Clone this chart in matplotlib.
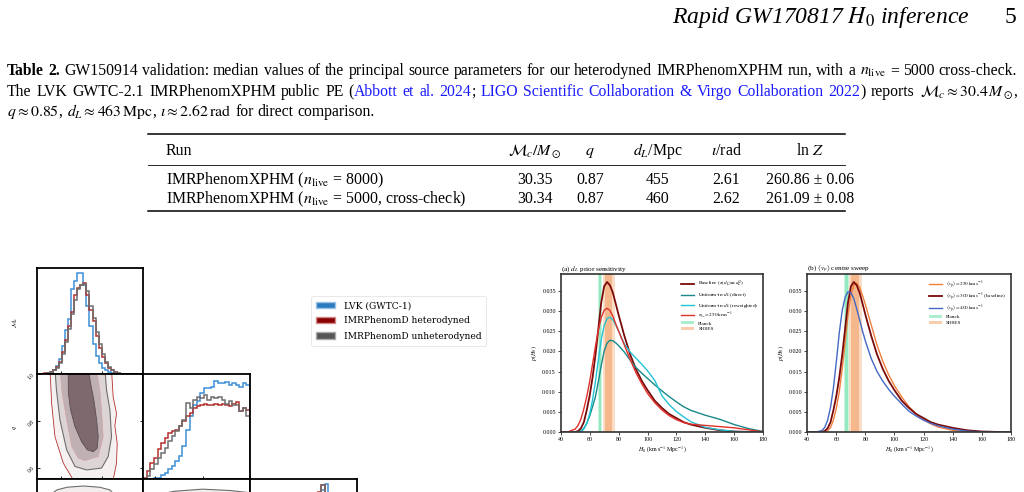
import numpy as np
import matplotlib
matplotlib.use("Agg")
import matplotlib.pyplot as plt
from matplotlib.lines import Line2D
from matplotlib.patches import Patch, Polygon

plt.rcParams['font.family'] = ['Liberation Serif', 'DejaVu Serif']
plt.rcParams['mathtext.fontset'] = 'stix'

W, H = 1024, 492

# ---------------- page text / table 2 ----------------
header_title = r"Rapid GW170817 $H_0$ inference"
header_page = "5"

blue_link = '#1a1aff'
caption_lines = [
    [("Table 2.", 'k', 'bold'),
     (" GW150914 validation: median values of the principal source parameters for our heterodyned IMRPhenomXPHM run, with a ", 'k', 'normal'),
     (r"$n_{\mathrm{live}}$", 'k', 'normal'),
     (" = 5000 cross-check.", 'k', 'normal')],
    [("The LVK GWTC-2.1 IMRPhenomXPHM public PE (", 'k', 'normal'),
     ("Abbott et al. 2024", blue_link, 'normal'),
     ("; ", 'k', 'normal'),
     ("LIGO Scientific Collaboration & Virgo Collaboration 2022", blue_link, 'normal'),
     (") reports ", 'k', 'normal'),
     (r"$\mathcal{M}_c \approx 30.4\,M_\odot$", 'k', 'normal'),
     (",", 'k', 'normal')],
    [(r"$q \approx 0.85$", 'k', 'normal'),
     (", ", 'k', 'normal'),
     (r"$d_L \approx 463\,\mathrm{Mpc}$", 'k', 'normal'),
     (", ", 'k', 'normal'),
     (r"$\iota \approx 2.62\,\mathrm{rad}$", 'k', 'normal'),
     (" for direct comparison.", 'k', 'normal')],
]

table_cols = ["Run", r"$\mathcal{M}_c/M_\odot$", r"$q$", r"$d_L$/Mpc", r"$\iota$/rad", r"ln $Z$"]
table_runs = [r"IMRPhenomXPHM ($n_{\mathrm{live}}$ = 8000)",
              r"IMRPhenomXPHM ($n_{\mathrm{live}}$ = 5000, cross-check)"]
table_mc = ["30.35", "30.34"]
table_q = ["0.87", "0.87"]
table_dl = ["455", "460"]
table_iota = ["2.61", "2.62"]
table_lnz = ["260.86 ± 0.06", "261.09 ± 0.08"]

# ---------------- corner plot data ----------------
corner_labels = ["LVK (GWTC-1)", "IMRPhenomD heterodyned", "IMRPhenomD unheterodyned"]
mc_edges = np.linspace(26.0, 34.1, 28)
mc_blue = [0, 0, 0, 0.01, 0.04, 0.08, 0.15, 0.28, 0.44, 0.55, 0.84, 0.92, 1.0, 1.0,
           0.88, 0.68, 0.48, 0.30, 0.18, 0.11, 0.06, 0.04, 0.02, 0.01, 0, 0, 0]
mc_het = [0, 0.005, 0.01, 0.02, 0.04, 0.07, 0.12, 0.22, 0.34, 0.48, 0.62, 0.78, 0.85, 0.88,
          0.90, 0.78, 0.64, 0.53, 0.38, 0.26, 0.17, 0.11, 0.06, 0.035, 0.015, 0.008, 0]
mc_unhet = [0, 0.003, 0.008, 0.015, 0.035, 0.06, 0.11, 0.20, 0.32, 0.45, 0.60, 0.74, 0.84, 0.88,
            0.89, 0.82, 0.68, 0.56, 0.42, 0.30, 0.20, 0.12, 0.07, 0.04, 0.02, 0.01, 0]

q_edges = np.linspace(0.55, 1.0, 31)
q_blue = [0, 0, 2, 3, 5, 12, 20, 30, 40, 55, 70, 100, 150, 190, 225, 235, 260, 275, 275, 280,
          298, 290, 290, 295, 285, 290, 285, 280, 290, 285]
q_het = [5, 25, 50, 65, 90, 110, 125, 140, 145, 150, 160, 175, 190, 200, 215, 220, 225, 228, 225, 225,
         228, 225, 228, 225, 220, 228, 232, 205, 215, 208]
q_unhet = [2, 10, 30, 45, 65, 80, 95, 115, 130, 145, 160, 180, 230, 215, 240, 250, 245, 255, 240, 250,
           245, 250, 240, 228, 235, 225, 225, 205, 215, 190]

dl_edges = np.linspace(100, 700, 31)
dl_blue = [0, 0, 0, 0, 0.01, 0.02, 0.03, 0.06, 0.10, 0.15, 0.21, 0.28, 0.36, 0.44, 0.52,
           0.60, 0.67, 0.73, 0.78, 0.82, 0.90, 0.955, 0.80, 0.66, 0.50, 0.34, 0.19, 0.09, 0.03, 0.01]
dl_het = [0, 0, 0, 0, 0.01, 0.02, 0.04, 0.07, 0.11, 0.16, 0.22, 0.30, 0.38, 0.47, 0.55,
          0.62, 0.70, 0.76, 0.81, 0.88, 0.945, 0.85, 0.78, 0.66, 0.50, 0.33, 0.18, 0.08, 0.03, 0.01]
dl_unhet = [0, 0, 0, 0, 0.01, 0.02, 0.04, 0.07, 0.11, 0.16, 0.22, 0.30, 0.38, 0.47, 0.55,
            0.62, 0.70, 0.76, 0.80, 0.84, 0.95, 0.86, 0.77, 0.65, 0.50, 0.33, 0.18, 0.08, 0.03, 0.01]

# credible-region outlines (Mc, q)
mcq_outer_mc = [26.91, 32.97, 33.13, 33.46, 33.30, 33.53, 33.46, 33.10, 29.30, 28.22, 27.40, 27.07]
mcq_outer_q = [1.02, 1.02, 0.903, 0.832, 0.778, 0.704, 0.619, 0.54, 0.54, 0.619, 0.732, 0.875]
mcq_2s_mc = [27.40, 32.32, 32.48, 32.81, 32.97, 32.64, 31.99, 30.51, 29.37, 28.55, 27.89, 27.55]
mcq_2s_q = [1.02, 1.02, 0.932, 0.846, 0.732, 0.647, 0.598, 0.590, 0.605, 0.676, 0.804, 0.93]
mcq_mid_mc = [27.89, 31.50, 31.82, 31.99, 32.15, 31.66, 30.35, 29.69, 29.04, 28.55, 28.10]
mcq_mid_q = [1.02, 1.02, 0.932, 0.846, 0.732, 0.647, 0.630, 0.640, 0.690, 0.804, 0.92]
mcq_inner_mc = [28.70, 30.70, 30.91, 31.23, 31.50, 31.66, 31.56, 31.17, 30.58, 30.02, 29.37, 28.94, 28.72]
mcq_inner_q = [1.02, 1.02, 0.96, 0.889, 0.804, 0.732, 0.683, 0.668, 0.676, 0.711, 0.775, 0.846, 0.917]

# credible-region outlines (Mc, dL) and (q, dL)
mcdl_outer_mc = [26.7, 27.0, 27.6, 28.6, 30.2, 31.8, 32.8, 33.3, 33.5, 33.6, 27.5]
mcdl_outer_dl = [560, 615, 640, 655, 662, 655, 640, 610, 560, 300, 200]
qdl_outer_q = [0.56, 0.62, 0.68, 0.80, 0.92, 0.99, 1.02, 1.02, 0.56]
qdl_outer_dl = [560, 615, 632, 644, 636, 625, 600, 200, 200]

# ---------------- H0 posterior data ----------------
h0_grid = [40, 45, 50, 52, 54, 56, 58, 60, 62, 64, 66, 68, 70, 72, 74, 76, 78, 80,
           84, 88, 92, 96, 100, 105, 110, 115, 120, 125, 130, 140, 150, 160, 170, 180]
p_baseline = [0, 0, 0.0001, 0.0003, 0.0010, 0.0025, 0.0055, 0.0090, 0.0135, 0.0190, 0.0255, 0.0320,
              0.0360, 0.0371, 0.0363, 0.0345, 0.0318, 0.0290, 0.0238, 0.0192, 0.0156, 0.0127, 0.0104,
              0.0078, 0.0060, 0.0045, 0.0035, 0.0025, 0.0019, 0.0011, 0.0005, 0.0002, 0.0001, 0]
p_direct = [0, 0, 0, 0.0001, 0.0003, 0.0010, 0.0022, 0.0040, 0.0063, 0.0088, 0.0125, 0.0165,
            0.0200, 0.0220, 0.0227, 0.0226, 0.0221, 0.0214, 0.0198, 0.0178, 0.0160, 0.0146, 0.0133,
            0.0117, 0.0102, 0.0088, 0.0075, 0.0063, 0.0054, 0.0042, 0.0032, 0.0019, 0.0009, 0.0002]
p_reweighted = [0, 0, 0, 0, 0.0001, 0.0008, 0.0022, 0.0045, 0.0080, 0.0125, 0.0179, 0.0228,
                0.0263, 0.0281, 0.0284, 0.0278, 0.0265, 0.0250, 0.0218, 0.0198, 0.0183, 0.0168, 0.0152,
                0.0128, 0.0090, 0.0068, 0.0051, 0.0038, 0.0026, 0.0012, 0.0006, 0.0002, 0.0001, 0]
p_sigma250 = [0, 0.0001, 0.0008, 0.0017, 0.0033, 0.0058, 0.0088, 0.0125, 0.0168, 0.0212, 0.0252, 0.0283,
              0.0301, 0.0306, 0.0301, 0.0287, 0.0268, 0.0250, 0.0215, 0.0180, 0.0147, 0.0120, 0.0096,
              0.0073, 0.0055, 0.0041, 0.0031, 0.0024, 0.0020, 0.0017, 0.0014, 0.0011, 0.0006, 0.0001]
p_vp250 = [0, 0, 0, 0.0001, 0.0004, 0.0012, 0.0030, 0.0060, 0.0100, 0.0155, 0.0220, 0.0288,
           0.0338, 0.0363, 0.0368, 0.0358, 0.0338, 0.0315, 0.0265, 0.0215, 0.0175, 0.0142, 0.0115,
           0.0087, 0.0063, 0.0045, 0.0031, 0.0021, 0.0013, 0.0005, 0.0001, 0, 0, 0]
p_vp400 = [0, 0, 0.0004, 0.0012, 0.0030, 0.0062, 0.0110, 0.0175, 0.0245, 0.0300, 0.0333, 0.0347,
           0.0345, 0.0330, 0.0305, 0.0278, 0.0250, 0.0225, 0.0182, 0.0150, 0.0126, 0.0106, 0.0089,
           0.0070, 0.0052, 0.0040, 0.0030, 0.0022, 0.0016, 0.0008, 0.0003, 0.0001, 0, 0]

planck_1s = (66.2, 67.9)
planck_2s = (65.6, 68.4)
shoes_1s = (70.3, 75.3)
shoes_2s = (69.0, 77.5)

fig = plt.figure(figsize=(W / 100, H / 100), dpi=100)
renderer = fig.canvas.get_renderer()


def rect(x0, y0, x1, y1):
    return [x0 / W, 1 - y1 / H, (x1 - x0) / W, (y1 - y0) / H]


def split_words(segs):
    items = []
    for text, color, weight in segs:
        if text.startswith('$'):
            items.append((text, color, weight))
            continue
        for i, p in enumerate(text.split(' ')):
            if i > 0 and items and items[-1] is not None:
                items.append(None)
            if p:
                items.append((p, color, weight))
    while items and items[-1] is None:
        items.pop()
    return items


def draw_words(y, segs, x0, x1=None, size=11):
    # lay words out one by one so colours/weights can change mid line
    items = split_words(segs)
    arts, widths = [], []
    for it in items:
        if it is None:
            continue
        t = fig.text(0, 1 - y / H, it[0], color=it[1], fontweight=it[2], fontsize=size,
                     va='baseline', ha='left')
        arts.append(t)
        widths.append(t.get_window_extent(renderer).width)
    n_gap = items.count(None)
    space = size * 100 / 72 * 0.25
    natural = sum(widths) + n_gap * space
    if x1 is not None and n_gap:
        space = (x1 - x0 - sum(widths)) / n_gap
    x, k = x0, 0
    for it in items:
        if it is None:
            x += space
            continue
        arts[k].set_x(x / W)
        x += widths[k]
        k += 1
    return arts, natural


def hline(y, x0, x1, lw):
    fig.add_artist(Line2D([x0 / W, x1 / W], [1 - y / H, 1 - y / H], color='k', lw=lw,
                          transform=fig.transFigure))


# header
fig.text(970 / W, 1 - 23 / H, header_title, fontsize=17, style='italic', ha='right', va='baseline')
fig.text(1016 / W, 1 - 23 / H, header_page, fontsize=17, ha='right', va='baseline')

# caption: size chosen so that the first line fills the text width with normal spacing
probe, nat = draw_words(75, caption_lines[0], 7, None, 11)
for a in probe:
    a.remove()
cap_size = 11 * 1010 / nat
draw_words(75, caption_lines[0], 7, 1017, cap_size)
draw_words(96, caption_lines[1], 7, 1017, cap_size)
draw_words(116, caption_lines[2], 7, None, cap_size)

# table
tsize = 11.4
hline(134, 148, 845, 1.1)
hline(165, 148, 845, 0.6)
hline(211, 148, 845, 1.1)
col_x = [166, 535, 590, 658, 726, 810]
for i, c in enumerate(table_cols):
    fig.text(col_x[i] / W, 1 - 155 / H, c, fontsize=tsize, ha='left' if i == 0 else 'center', va='baseline')
for r, yb in enumerate([184, 203]):
    vals = [table_runs[r], table_mc[r], table_q[r], table_dl[r], table_iota[r], table_lnz[r]]
    for i, v in enumerate(vals):
        fig.text(col_x[i] / W, 1 - yb / H, v, fontsize=tsize, ha='left' if i == 0 else 'center', va='baseline')

# ---------------- corner plot ----------------
c_blue, c_red, c_gray = '#3d8fd6', '#b3302e', '#6e6e6e'
cx = [36.7, 143.3, 250.0, 356.7]
ry = [268.3, 374.0, 479.3, 585.0]
mc_lim, q_lim, dl_lim = (25.6, 36.1), (0.55, 1.0), (100, 700)


def corner_ax(col, row):
    ax = fig.add_axes(rect(cx[col], ry[row], cx[col + 1], ry[row + 1]))
    for s in ax.spines.values():
        s.set_linewidth(1.3)
        s.set_color('k')
    ax.tick_params(direction='in', length=2.5, width=0.6, labelsize=4,
                   labelbottom=False, labelleft=False)
    return ax


ax = corner_ax(0, 0)
for vals, c in [(mc_blue, c_blue), (mc_het, c_red), (mc_unhet, c_gray)]:
    ax.stairs(vals, mc_edges, color=c, lw=1.1)
ax.set_xlim(*mc_lim)
ax.set_ylim(0, 1.05)
ax.set_xticks([28, 32])
ax.set_yticks([])

ax = corner_ax(0, 1)
ax.add_patch(Polygon(np.column_stack([mcq_outer_mc, mcq_outer_q]), fc='#f6f1f1', ec=c_red, lw=0.6))
ax.add_patch(Polygon(np.column_stack([mcq_2s_mc, mcq_2s_q]), fc='#ddd4d5', ec=c_gray, lw=0.8))
ax.add_patch(Polygon(np.column_stack([mcq_mid_mc, mcq_mid_q]), fc='#bfb1b3', ec='#d9a0a0', lw=0.4))
ax.add_patch(Polygon(np.column_stack([mcq_inner_mc, mcq_inner_q]), fc='#7e6a6e', ec='#5c4c50', lw=0.6))
ax.set_xlim(*mc_lim)
ax.set_ylim(*q_lim)
ax.set_xticks([28, 32])
ax.set_yticks([0.6, 0.8, 1.0])
ax.tick_params(labelleft=True, right=True, pad=1)
for t in ax.get_yticklabels():
    t.set_rotation(45)

ax = corner_ax(1, 1)
for vals, c in [(q_blue, c_blue), (q_het, c_red), (q_unhet, c_gray)]:
    ax.stairs(vals, q_edges, color=c, lw=1.1)
ax.set_xlim(*q_lim)
ax.set_ylim(0, 318)
ax.set_xticks([0.6, 0.8, 1.0])
ax.set_yticks([])

ax = corner_ax(0, 2)
ax.add_patch(Polygon(np.column_stack([mcdl_outer_mc, mcdl_outer_dl]), fc='#f3eeee', ec=c_gray, lw=0.8))
ax.set_xlim(*mc_lim)
ax.set_ylim(*dl_lim)
ax.set_xticks([28, 32])
ax.set_yticks([])

ax = corner_ax(1, 2)
ax.add_patch(Polygon(np.column_stack([qdl_outer_q, qdl_outer_dl]), fc='#f3eeee', ec=c_gray, lw=0.8))
ax.set_xlim(*q_lim)
ax.set_ylim(*dl_lim)
ax.set_xticks([0.6, 0.8, 1.0])
ax.set_yticks([])

ax = corner_ax(2, 2)
for vals, c in [(dl_blue, c_blue), (dl_het, c_red), (dl_unhet, c_gray)]:
    ax.stairs(vals, dl_edges, color=c, lw=1.1)
ax.set_xlim(*dl_lim)
ax.set_ylim(0, 1.0)
ax.set_xticks([])
ax.set_yticks([])

fig.text(15 / W, 1 - 322 / H, r"$\mathcal{M}_c$", fontsize=4.5, rotation=90, ha='center', va='center')
fig.text(15 / W, 1 - 427 / H, r"$q$", fontsize=4.5, rotation=90, ha='center', va='center')

corner_handles = [Patch(fc='#2a7abf', ec='#9cc3e6', lw=1.0),
                  Patch(fc='#8b0000', ec='#d08a8a', lw=1.0),
                  Patch(fc='#555555', ec='#aaaaaa', lw=1.0)]
leg = fig.legend(corner_handles, corner_labels, loc='upper left',
                 bbox_to_anchor=(311 / W, 1 - 296 / H), borderaxespad=0,
                 prop={'family': 'DejaVu Serif', 'size': 6.6}, handlelength=2.1, handleheight=0.7,
                 handletextpad=0.9, labelspacing=0.7, borderpad=0.55, frameon=True, fancybox=True)
leg.get_frame().set_edgecolor('#dddddd')
leg.get_frame().set_linewidth(0.6)


# ---------------- H0 panels ----------------
def h0_panel(x0, x1, title, series):
    ax = fig.add_axes(rect(x0, 274.3, x1, 432.3))
    ax.axvspan(*planck_2s, color='#c9f4df', lw=0)
    ax.axvspan(*planck_1s, color='#95e9c1', lw=0)
    ax.axvspan(*shoes_2s, color='#fbdcc6', lw=0)
    ax.axvspan(*shoes_1s, color='#f4b88c', lw=0)
    handles = []
    for vals, c, lw, lab in series:
        ax.plot(h0_grid, vals, color=c, lw=lw)
        handles.append(Line2D([], [], color=c, lw=lw, label=lab))
    handles.append(Patch(fc='#a9eecd', label='Planck'))
    handles.append(Patch(fc='#f8cdae', label='SH0ES'))
    ax.set_xlim(40, 180)
    ax.set_ylim(0, 0.039)
    ax.set_xticks(range(40, 181, 20))
    ax.set_yticks([0, 0.005, 0.010, 0.015, 0.020, 0.025, 0.030, 0.035])
    ax.yaxis.set_major_formatter(matplotlib.ticker.FormatStrFormatter('%.3f'))
    ax.tick_params(labelsize=4.3, length=2, width=0.5, pad=1.5)
    for s in ax.spines.values():
        s.set_linewidth(1.2)
        s.set_color('#333333')
    ax.set_xlabel(r"$H_0$ (km s$^{-1}$ Mpc$^{-1}$)", fontsize=4.3, labelpad=1.5)
    ax.set_ylabel(r"$p(H_0)$", fontsize=4.3, labelpad=2)
    ax.set_title(title, fontsize=5.2, loc='left', pad=1.5)
    ax.legend(handles=handles, loc='upper right', frameon=False, fontsize=3.8,
              handlelength=2.4, handleheight=0.5, labelspacing=0.22, borderaxespad=0.5)
    return ax


h0_panel(560.7, 763.3, r"(a) $d_L$ prior sensitivity", [
    (p_baseline, '#7a0a0a', 1.3, r"Baseline ($\pi(d_L)\propto d_L^2$)"),
    (p_direct, '#17898a', 1.0, r"Uniform-in-$d_L$ (direct)"),
    (p_reweighted, '#22c3d3', 1.0, r"Uniform-in-$d_L$ (reweighted)"),
    (p_sigma250, '#e0302a', 1.0, r"$\sigma_{v_p}=250\,\mathrm{km\,s^{-1}}$"),
])
h0_panel(807.3, 1010.7, r"(b) $\langle v_p\rangle$ centre sweep", [
    (p_vp250, '#f07f3c', 1.0, r"$\langle v_p\rangle=250\,\mathrm{km\,s^{-1}}$"),
    (p_baseline, '#7a0a0a', 1.3, r"$\langle v_p\rangle=300\,\mathrm{km\,s^{-1}}$ (baseline)"),
    (p_vp400, '#4468c4', 1.0, r"$\langle v_p\rangle=400\,\mathrm{km\,s^{-1}}$"),
])

fig.savefig("out.png", dpi=100)
